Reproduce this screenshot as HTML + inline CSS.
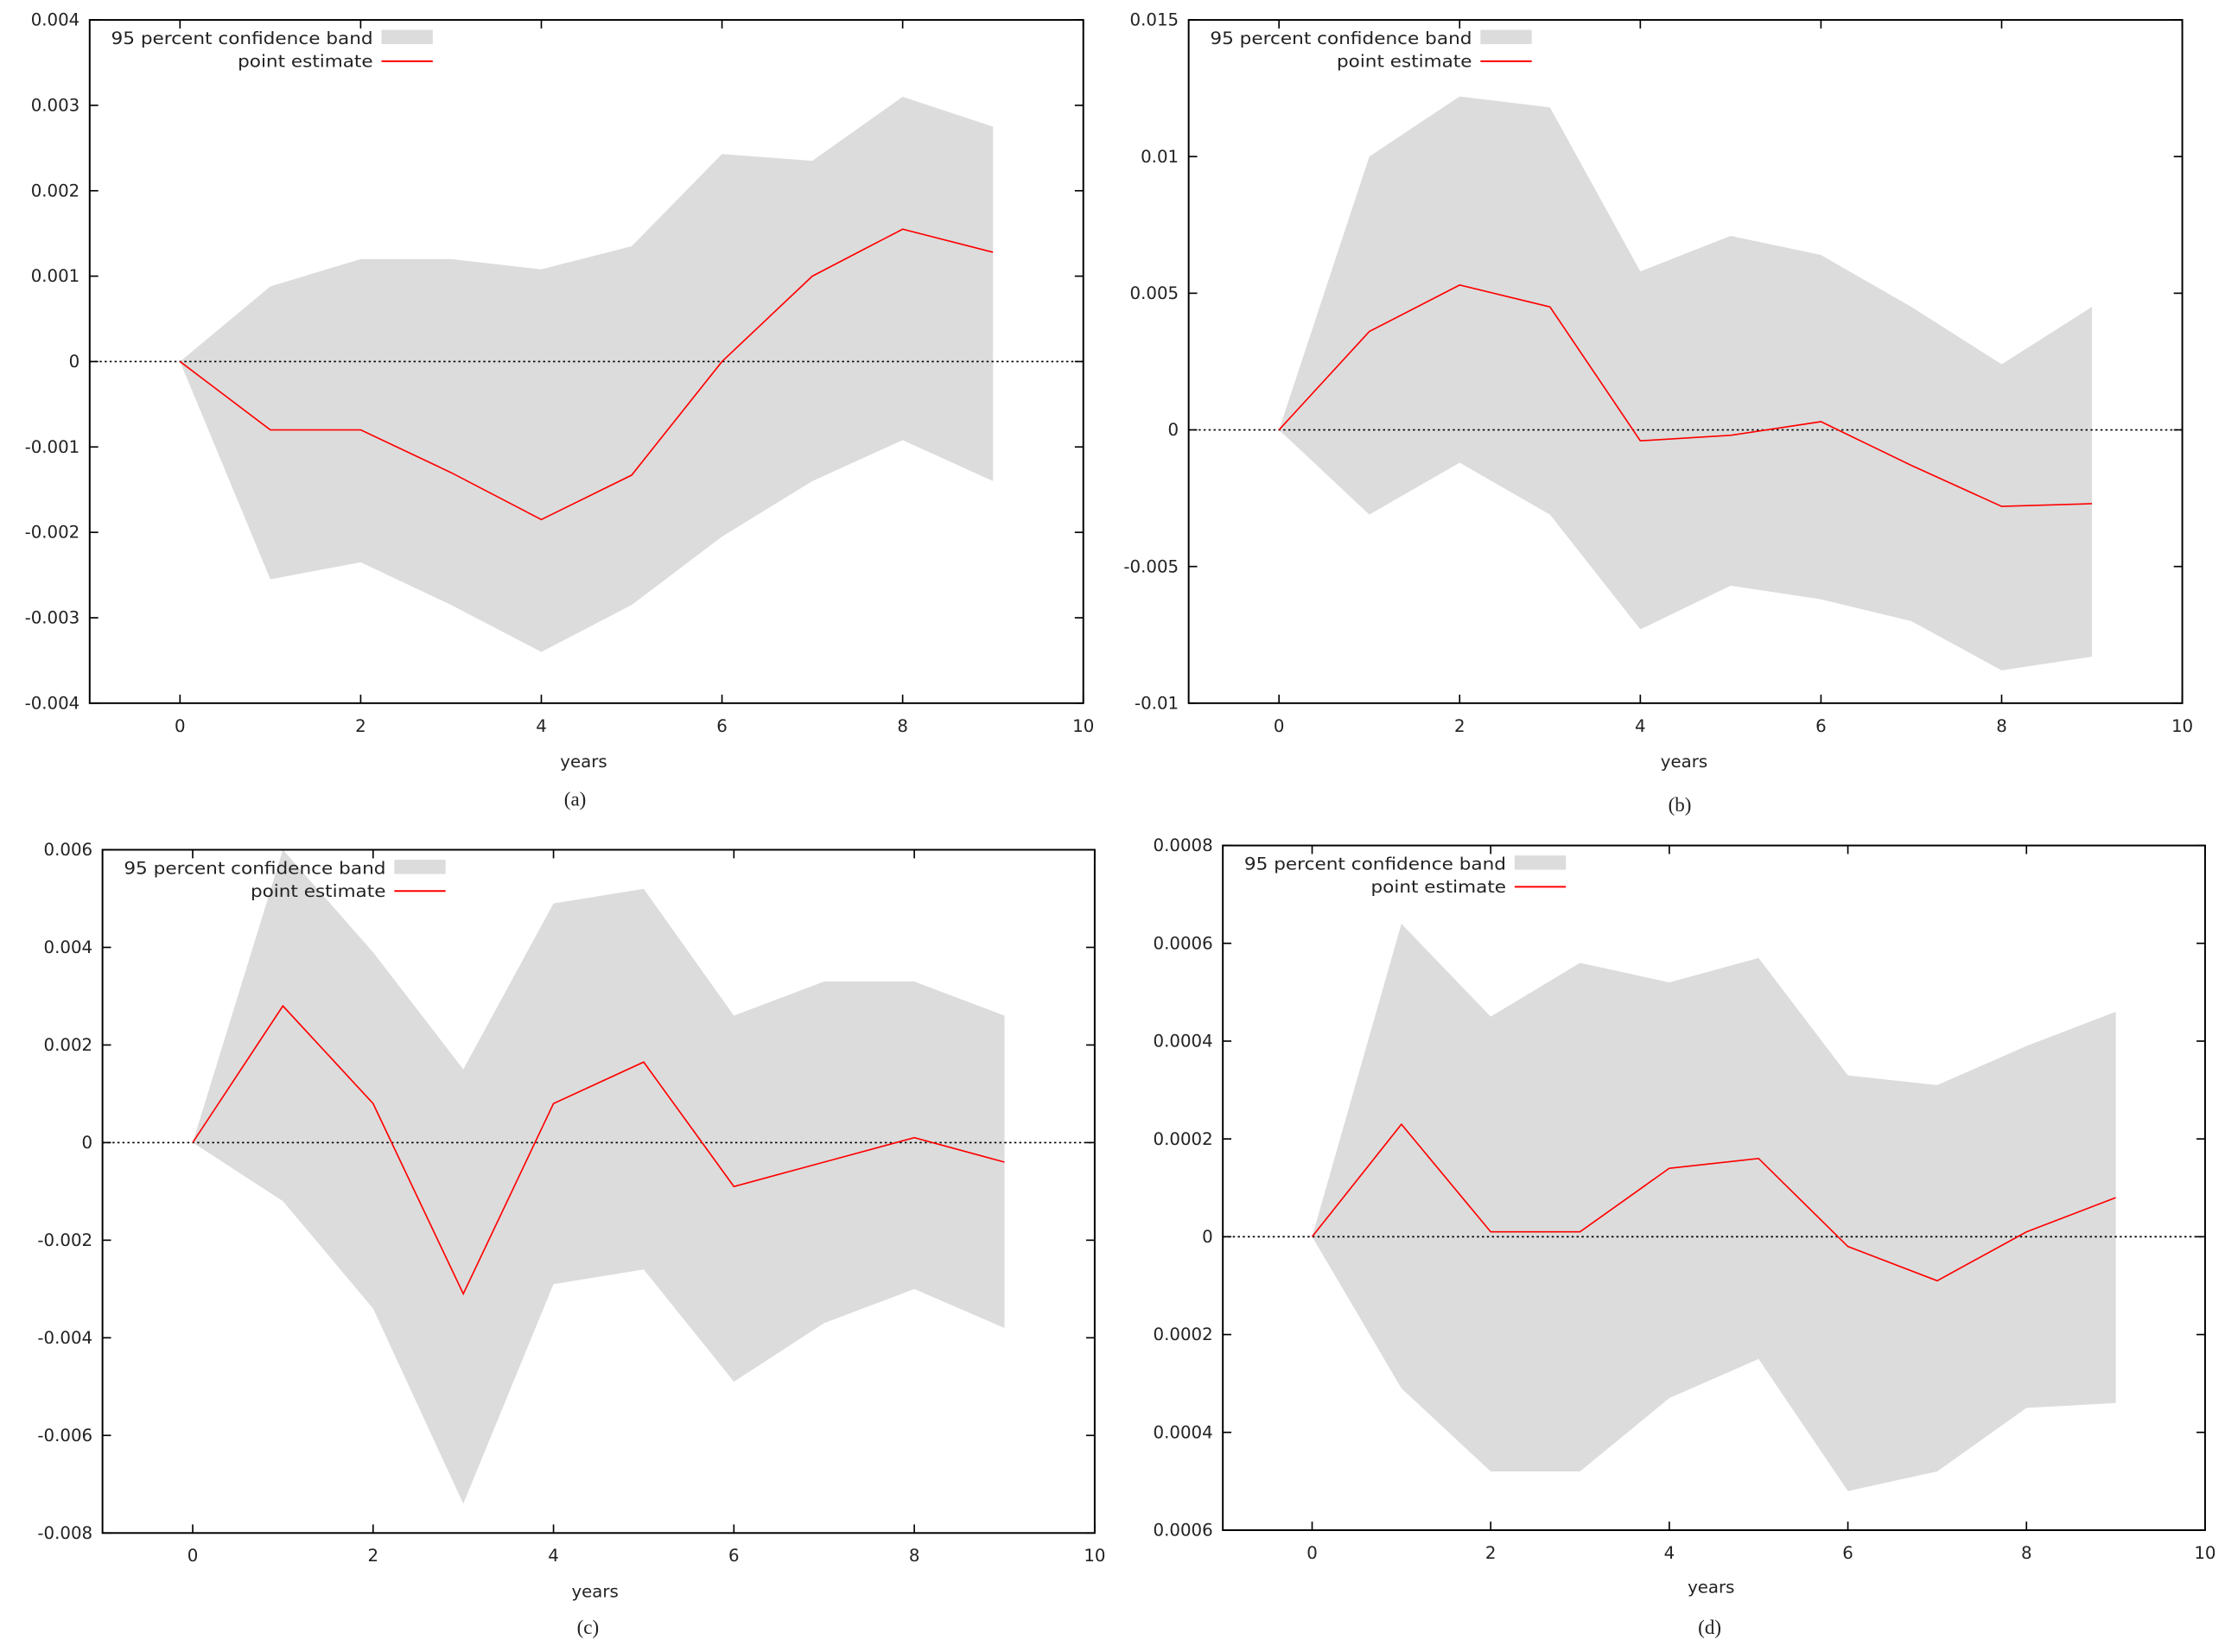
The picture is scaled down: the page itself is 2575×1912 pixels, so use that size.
<!DOCTYPE html>
<html><head><meta charset="utf-8"><style>
html,body{margin:0;padding:0;background:#fff;}
svg{display:block;}
text{font-family:"DejaVu Sans","Liberation Sans",sans-serif;fill:#222;}
</style></head><body>
<svg id="fig" width="2575" height="1912" viewBox="0 0 1563 1160.6" preserveAspectRatio="none" xmlns="http://www.w3.org/2000/svg"></svg>
<script>
const xValues = [0,1,2,3,4,5,6,7,8,9];
const xTicks = [0,2,4,6,8,10];

const aPoint = [0,-0.0008,-0.0008,-0.0013,-0.00185,-0.00133,0,0.001,0.00155,0.00128];
const aUpper = [0,0.00088,0.0012,0.0012,0.00108,0.00135,0.00243,0.00235,0.0031,0.00275];
const aLower = [0,-0.00255,-0.00235,-0.00285,-0.0034,-0.00285,-0.00205,-0.0014,-0.00092,-0.0014];
const aYTicks = [0.004,0.003,0.002,0.001,0,-0.001,-0.002,-0.003,-0.004];
const aYLabels = ["0.004","0.003","0.002","0.001","0","-0.001","-0.002","-0.003","-0.004"];

const bPoint = [0,0.0036,0.0053,0.0045,-0.0004,-0.0002,0.0003,-0.0013,-0.0028,-0.0027];
const bUpper = [0,0.01,0.0122,0.0118,0.0058,0.0071,0.0064,0.0045,0.0024,0.0045];
const bLower = [0,-0.0031,-0.0012,-0.0031,-0.0073,-0.0057,-0.0062,-0.007,-0.0088,-0.0083];
const bYTicks = [0.015,0.01,0.005,0,-0.005,-0.01];
const bYLabels = ["0.015","0.01","0.005","0","-0.005","-0.01"];

const cPoint = [0,0.0028,0.0008,-0.0031,0.0008,0.00165,-0.0009,-0.0004,0.0001,-0.0004];
const cUpper = [0,0.006,0.0039,0.0015,0.0049,0.0052,0.0026,0.0033,0.0033,0.0026];
const cLower = [0,-0.0012,-0.0034,-0.0074,-0.0029,-0.0026,-0.0049,-0.0037,-0.003,-0.0038];
const cYTicks = [0.006,0.004,0.002,0,-0.002,-0.004,-0.006,-0.008];
const cYLabels = ["0.006","0.004","0.002","0","-0.002","-0.004","-0.006","-0.008"];

const dPoint = [0,0.00023,0.00001,0.00001,0.00014,0.00016,-0.00002,-0.00009,0.00001,0.00008];
const dUpper = [0,0.00064,0.00045,0.00056,0.00052,0.00057,0.00033,0.00031,0.00039,0.00046];
const dLower = [0,-0.00031,-0.00048,-0.00048,-0.00033,-0.00025,-0.00052,-0.00048,-0.00035,-0.00034];
const dYTicks = [0.0008,0.0006,0.0004,0.0002,0,-0.0002,-0.0004,-0.0006];
const dYLabels = ["0.0008","0.0006","0.0004","0.0002","0","0.0002","0.0004","0.0006"];

const NS="http://www.w3.org/2000/svg";
const svg=document.getElementById('fig');
function mk(tag,attrs,parent){const e=document.createElementNS(NS,tag);for(const k in attrs)e.setAttribute(k,attrs[k]);(parent||svg).appendChild(e);return e;}

function panel(id,box,ymax,ymin,point,upper,lower,yTicks,yLabels,yearsPos,capPos){
  const g=mk('g',{});
  
  
  const sx=v=>box.L+(v+1)/11*(box.R-box.L);
  const sy=v=>box.T+(ymax-v)/(ymax-ymin)*(box.B-box.T);
  let pts=xValues.map((x,i)=>sx(x)+','+sy(upper[i]));
  for(let i=xValues.length-1;i>=0;i--)pts.push(sx(xValues[i])+','+sy(lower[i]));
  const band=mk('polygon',{points:pts.join(' '),fill:'#dcdcdc',stroke:'none'},g);
  
  
  const zl=mk('line',{x1:box.L,x2:box.R,y1:sy(0),y2:sy(0),stroke:'#000','stroke-width':1,'stroke-dasharray':'1.5,2'},g);
  
  
  const line=mk('polyline',{points:xValues.map((x,i)=>sx(x)+','+sy(point[i])).join(' '),fill:'none',stroke:'#f00','stroke-width':1},g);
  
  
  const fr=mk('rect',{x:box.L,y:box.T,width:box.R-box.L,height:box.B-box.T,fill:'none',stroke:'#000','stroke-width':1.2},g);
  
  
  yTicks.forEach((v,i)=>{
    const y=sy(v);
    mk('line',{x1:box.L,x2:box.L+6,y1:y,y2:y,stroke:'#000'},g);
    mk('line',{x1:box.R-6,x2:box.R,y1:y,y2:y,stroke:'#000'},g);
    const t=mk('text',{x:box.L-7,y:y+4,'text-anchor':'end','font-size':12},g);
    t.textContent=yLabels[i];
    
    
  });
  xTicks.forEach(v=>{
    const x=sx(v);
    mk('line',{x1:x,x2:x,y1:box.B,y2:box.B-6,stroke:'#000'},g);
    mk('line',{x1:x,x2:x,y1:box.T,y2:box.T+6,stroke:'#000'},g);
    const t=mk('text',{x:x,y:box.B+20,'text-anchor':'middle','font-size':12},g);
    t.textContent=String(v);
    
    
  });
  const yt=mk('text',{x:yearsPos[0],y:yearsPos[1],'text-anchor':'middle','font-size':12},g);
  yt.textContent='years';
  
  
  const cp=mk('text',{x:capPos[0],y:capPos[1],'text-anchor':'middle','font-size':14,style:'font-family:"Liberation Serif",serif'},g);
  cp.textContent='('+id+')';
  
  
  const lx=box.L+199, ly=box.T+17;
  const l1=mk('text',{x:lx-184,y:ly,'font-size':12,textLength:184,lengthAdjust:'spacingAndGlyphs'},g);
  l1.textContent='95 percent confidence band';
  
  
  const sw=mk('rect',{x:lx+6,y:ly-10,width:36,height:10,fill:'#dcdcdc'},g);
  
  
  const l2=mk('text',{x:lx-95,y:ly+16,'font-size':12,textLength:95,lengthAdjust:'spacingAndGlyphs'},g);
  l2.textContent='point estimate';
  
  
  const ll=mk('line',{x1:lx+6,x2:lx+42,y1:ly+12,y2:ly+12,stroke:'#f00','stroke-width':1.2},g);
  
  
}
panel('a',{L:63,R:761,T:14,B:494},0.004,-0.004,aPoint,aUpper,aLower,aYTicks,aYLabels,[410,539],[404,566]);
panel('b',{L:835,R:1533,T:14,B:494},0.015,-0.01,bPoint,bUpper,bLower,bYTicks,bYLabels,[1183,539],[1180,570]);
panel('c',{L:72,R:769,T:597,B:1077},0.006,-0.008,cPoint,cUpper,cLower,cYTicks,cYLabels,[418,1122],[413,1148]);
panel('d',{L:859,R:1549,T:594,B:1075},0.0008,-0.0006,dPoint,dUpper,dLower,dYTicks,dYLabels,[1202,1119],[1201,1148]);
</script>
</body></html>
